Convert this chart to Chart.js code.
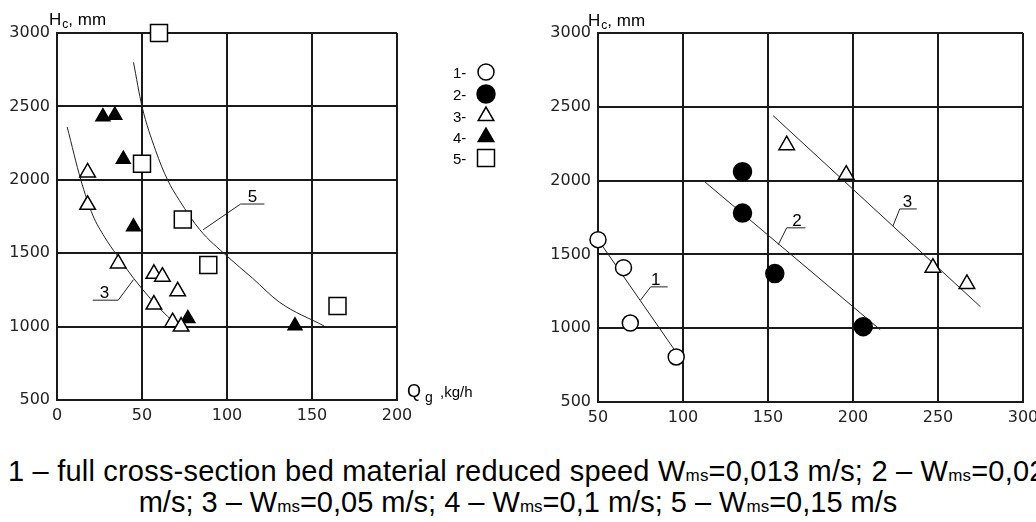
<!DOCTYPE html>
<html>
<head>
<meta charset="utf-8">
<script src="https://cdn.jsdelivr.net/npm/chart.js@4.4.0/dist/chart.umd.min.js"></script>
<style>
  body { margin: 0; background: #fff; width: 1036px; height: 522px; overflow: hidden; position: relative; font-family: "Liberation Sans", Arial, sans-serif; }
  #left { position: absolute; left: 0; top: 0; }
  #right { position: absolute; left: 520px; top: 0; }
  .cap { position: absolute; font-size: 29px; line-height: 29px; color: #000; white-space: nowrap; }
  .cap span { font-size: 17px; }
</style>
</head>
<body>
<canvas id="left" width="520" height="430"></canvas>
<canvas id="right" width="540" height="430"></canvas>
<div class="cap" style="left:8px; top:457px; letter-spacing:0.2px;">1 – full cross-section bed material reduced speed W<span>ms</span>=0,013 m/s; 2 – W<span>ms</span>=0,025</div>
<div class="cap" style="left:0; width:1036px; text-align:center; top:488px;">m/s; 3 – W<span>ms</span>=0,05 m/s; 4 – W<span>ms</span>=0,1 m/s; 5 – W<span>ms</span>=0,15 m/s</div>
<script>
// left plot: Hc (mm) against Qg (kg/h)
const ser3L = [[18,2050],[18,1830],[36,1430],[57,1360],[62,1340],[71,1240],[57,1150],[68,1030],[73,1000]];
const ser4L = [[27,2430],[34,2440],[39,2140],[45,1680],[77,1055],[140,1005]];
const ser5L = [[60,3000],[50,2110],[74,1730],[89,1420],[165,1140]];
const curve3L = [[6,2360],[14,2000],[21,1760],[28,1610],[35,1490],[45,1330],[55,1190],[65,1070],[72,995]];
const curve5L = [[45,2800],[50,2500],[58,2200],[65,2000],[72,1860],[84,1660],[100,1480],[115,1330],[131,1165],[157,1005]];
const leadersL = [[[86,1660],[108,1835],[122,1835]], [[21,1180],[36,1180],[45,1320]]];
const labelsL = [['5',115,1850],['3',28,1195]];

// right plot
const ser1R = [[50,1600],[65,1410],[69,1035],[96,805]];
const ser2R = [[135,2060],[135,1780],[154,1370],[206,1010]];
const ser3R = [[161,2240],[196,2040],[247,1410],[267,1300]];
const line1R = [[50,1600],[100,770]];
const line2R = [[113,1990],[216,990]];
const line3R = [[153,2440],[275,1145]];
const leadersR = [[[75,1190],[81,1280],[91,1280]], [[156,1565],[161,1680],[172,1680]], [[223.5,1692],[227.5,1808],[237.5,1808]]];
const labelsR = [['1',84,1292],['2',167,1692],['3',232,1822]];

const legendNames = ['1-','2-','3-','4-','5-'];

const INK = '#1a1a1a';
const pt = arr => arr.map(([x, y]) => ({ x, y }));

function markers(data, style, filled, radius) {
  return {
    data: pt(data), pointStyle: style, pointRadius: radius, pointHoverRadius: radius,
    pointBackgroundColor: filled ? '#000' : '#fff', pointBorderColor: '#000', pointBorderWidth: 1.5,
    showLine: false, order: 0, clip: false
  };
}
function line(data, curved) {
  return {
    data: pt(data), showLine: true, pointRadius: 0, pointHoverRadius: 0, borderColor: '#222', borderWidth: 1,
    fill: false, cubicInterpolationMode: curved ? 'monotone' : 'default', order: 10, clip: false
  };
}

function makeScales(xmin, xmax, yWidth, xHeight) {
  const grid = { color: INK, lineWidth: 2, drawTicks: false };
  const border = { color: INK, width: 2 };
  const font = { family: 'DejaVu Sans', size: 16 };
  return {
    x: {
      type: 'linear', min: xmin, max: xmax, grid, border,
      ticks: { stepSize: 50, color: '#222', font, padding: 6, maxRotation: 0, callback: v => String(v) },
      afterFit: s => { s.height = xHeight; }
    },
    y: {
      type: 'linear', min: 500, max: 3000, grid, border,
      ticks: { stepSize: 500, color: '#222', font, padding: 7, callback: v => String(v) },
      afterFit: s => { s.width = yWidth; }
    }
  };
}

// axis title "Hc, mm" with subscript
function drawHc(ctx, x, y) {
  ctx.fillStyle = '#000';
  ctx.textAlign = 'left';
  ctx.textBaseline = 'alphabetic';
  ctx.font = '17px "Liberation Sans", Arial';
  ctx.fillText('H', x, y);
  let w = ctx.measureText('H').width;
  ctx.font = '12px "Liberation Sans", Arial';
  ctx.fillText('c', x + w + 1, y + 3);
  w += ctx.measureText('c').width + 1;
  ctx.font = '17px "Liberation Sans", Arial';
  ctx.fillText(', mm', x + w, y);
}

function drawNotes(chart, leaders, labels) {
  const { ctx, scales: { x, y } } = chart;
  ctx.save();
  ctx.strokeStyle = '#222';
  ctx.lineWidth = 1;
  leaders.forEach(pts => {
    ctx.beginPath();
    pts.forEach(([a, b], i) => {
      const px = x.getPixelForValue(a), py = y.getPixelForValue(b);
      if (i === 0) ctx.moveTo(px, py); else ctx.lineTo(px, py);
    });
    ctx.stroke();
  });
  ctx.fillStyle = '#000';
  ctx.font = '17px "Liberation Sans", Arial';
  ctx.textAlign = 'center';
  ctx.textBaseline = 'alphabetic';
  labels.forEach(([t, a, b]) => ctx.fillText(t, x.getPixelForValue(a), y.getPixelForValue(b)));
  ctx.restore();
}

const legendStyles = [
  { pointStyle: 'circle', radius: 8, fill: '#fff' },
  { pointStyle: 'circle', radius: 9, fill: '#000' },
  { pointStyle: 'triangle', radius: 9, fill: '#fff' },
  { pointStyle: 'triangle', radius: 9, fill: '#000' },
  { pointStyle: 'rect', radius: 12, fill: '#fff' }
];

const leftNotes = {
  id: 'leftNotes',
  afterDraw(chart) {
    const ctx = chart.ctx;
    drawNotes(chart, leadersL, labelsL);
    ctx.save();
    drawHc(ctx, 49, 25);
    // x axis title Qg ,kg/h
    ctx.font = '18px "Liberation Sans", Arial';
    ctx.fillText('Q', 407, 397);
    ctx.font = '14px "Liberation Sans", Arial';
    ctx.fillText('g', 425, 402);
    ctx.font = '15px "Liberation Sans", Arial';
    ctx.fillText(',kg/h', 440, 397);
    // legend
    legendNames.forEach((name, i) => {
      const cy = [72, 94, 116, 137, 158][i];
      ctx.font = '15px "Liberation Sans", Arial';
      ctx.fillStyle = '#000';
      ctx.textAlign = 'left';
      ctx.fillText(name, 453, cy + 6);
      const s = legendStyles[i];
      ctx.fillStyle = s.fill;
      ctx.strokeStyle = '#000';
      ctx.lineWidth = 1.5;
      Chart.helpers.drawPoint(ctx, { pointStyle: s.pointStyle, radius: s.radius, borderWidth: 1.5 }, 486, cy);
    });
    ctx.restore();
  }
};

const rightNotes = {
  id: 'rightNotes',
  afterDraw(chart) {
    drawNotes(chart, leadersR, labelsR);
    chart.ctx.save();
    drawHc(chart.ctx, 68, 26);
    chart.ctx.restore();
  }
};

const common = {
  responsive: false,
  animation: false,
  devicePixelRatio: 1,
  plugins: { legend: { display: false }, tooltip: { enabled: false } },
  events: []
};

new Chart(document.getElementById('left'), {
  type: 'scatter',
  data: {
    datasets: [
      markers(ser3L, 'triangle', false, 9),
      markers(ser4L, 'triangle', true, 8),
      markers(ser5L, 'rect', false, 12),
      line(curve3L, true),
      line(curve5L, true)
    ]
  },
  options: { ...common, layout: { padding: { top: 33, right: 123, left: 0, bottom: 0 } }, scales: makeScales(0, 200, 57, 30) },
  plugins: [leftNotes]
});

new Chart(document.getElementById('right'), {
  type: 'scatter',
  data: {
    datasets: [
      markers(ser1R, 'circle', false, 8),
      markers(ser2R, 'circle', true, 9),
      markers(ser3R, 'triangle', false, 9),
      line(line1R, false),
      line(line2R, false),
      line(line3R, false)
    ]
  },
  options: { ...common, layout: { padding: { top: 33, right: 37, left: 0, bottom: 0 } }, scales: makeScales(50, 300, 78, 28) },
  plugins: [rightNotes]
});
</script>
</body>
</html>
